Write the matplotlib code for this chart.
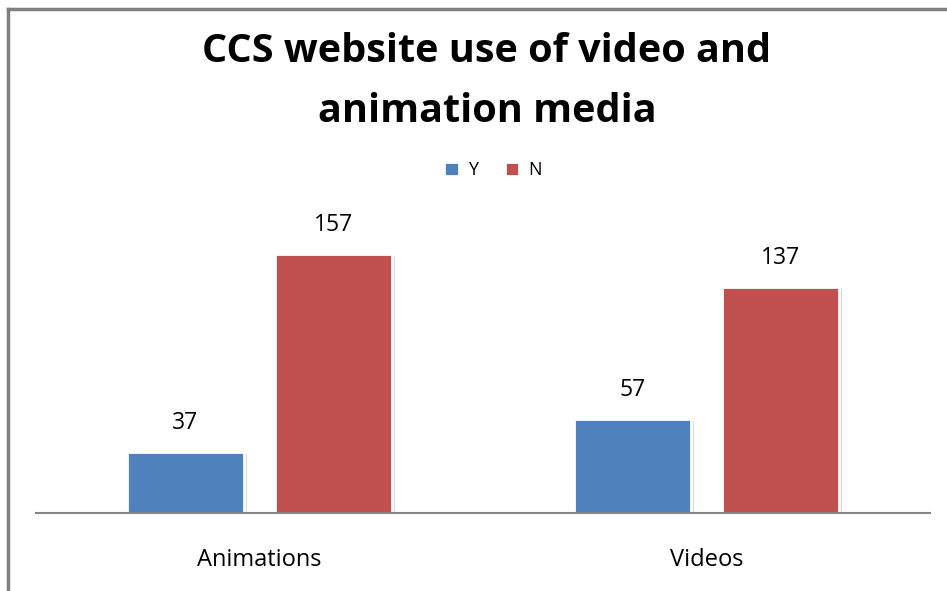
import matplotlib
matplotlib.use("Agg")
import matplotlib.pyplot as plt
import numpy as np

categories = ["Animations", "Videos"]
series_names = ["Y", "N"]
values_Y = [37, 57]
values_N = [157, 137]
colors = ["#4F81BD", "#C0504D"]

plt.rcParams['font.family'] = ['Open Sans', 'DejaVu Sans']

W, H = 947, 591
fig = plt.figure(figsize=(W / 100, H / 100), dpi=100)

# frame lines (top and left) as in reference
fig.add_artist(plt.Line2D([8 / W, 8 / W], [0, 1 - 9 / H], color="#808080", lw=2.5, transform=fig.transFigure))
fig.add_artist(plt.Line2D([8 / W, 1], [1 - 9 / H, 1 - 9 / H], color="#808080", lw=2.5, transform=fig.transFigure))

ax_left, ax_right = 36 / W, 930 / W
ax_bottom, ax_top = 1 - 513 / H, 1 - 200 / H
ax = fig.add_axes([ax_left, ax_bottom, ax_right - ax_left, ax_top - ax_bottom])
ax.set_xlim(-0.5, 1.5)
ax.set_ylim(0, 190)

x = np.arange(len(categories))
width = 0.263
offset = 0.166
for vals, off, col, name in [(values_Y, -offset, colors[0], "Y"), (values_N, offset, colors[1], "N")]:
    # soft shadow
    ax.bar(x + off + 0.006, vals, width, bottom=-1.2, color="#d8d8d8", edgecolor="none", zorder=1)
    bars = ax.bar(x + off, vals, width, color=col, edgecolor="white", linewidth=2, label=name, zorder=2)
    for b, v in zip(bars, vals):
        ax.text(b.get_x() + b.get_width() / 2, v + 10.5, str(v), ha="center", va="bottom",
                fontsize=16.5, color="#000000")

for s in ["top", "right", "left"]:
    ax.spines[s].set_visible(False)
ax.spines["bottom"].set_color("#868686")
ax.spines["bottom"].set_linewidth(1.5)
ax.spines["bottom"].set_zorder(3)
ax.set_yticks([])
ax.set_xticks(x)
ax.set_xticklabels(categories, fontsize=17)
ax.tick_params(axis="x", length=0, pad=25)

fig.text(487 / W, 1 - 52 / H, "CCS website use of video and", ha="center", va="center",
         fontsize=28.5, fontweight="bold")
fig.text(487 / W, 1 - 112 / H, "animation media", ha="center", va="center",
         fontsize=28.5, fontweight="bold")

leg = fig.legend(loc="center", bbox_to_anchor=(493 / W, 1 - 170 / H), ncol=2, frameon=False,
                 fontsize=13, handlelength=0.8, handleheight=0.8, handletextpad=0.5, columnspacing=1.5)

fig.savefig("out.png", dpi=100)
